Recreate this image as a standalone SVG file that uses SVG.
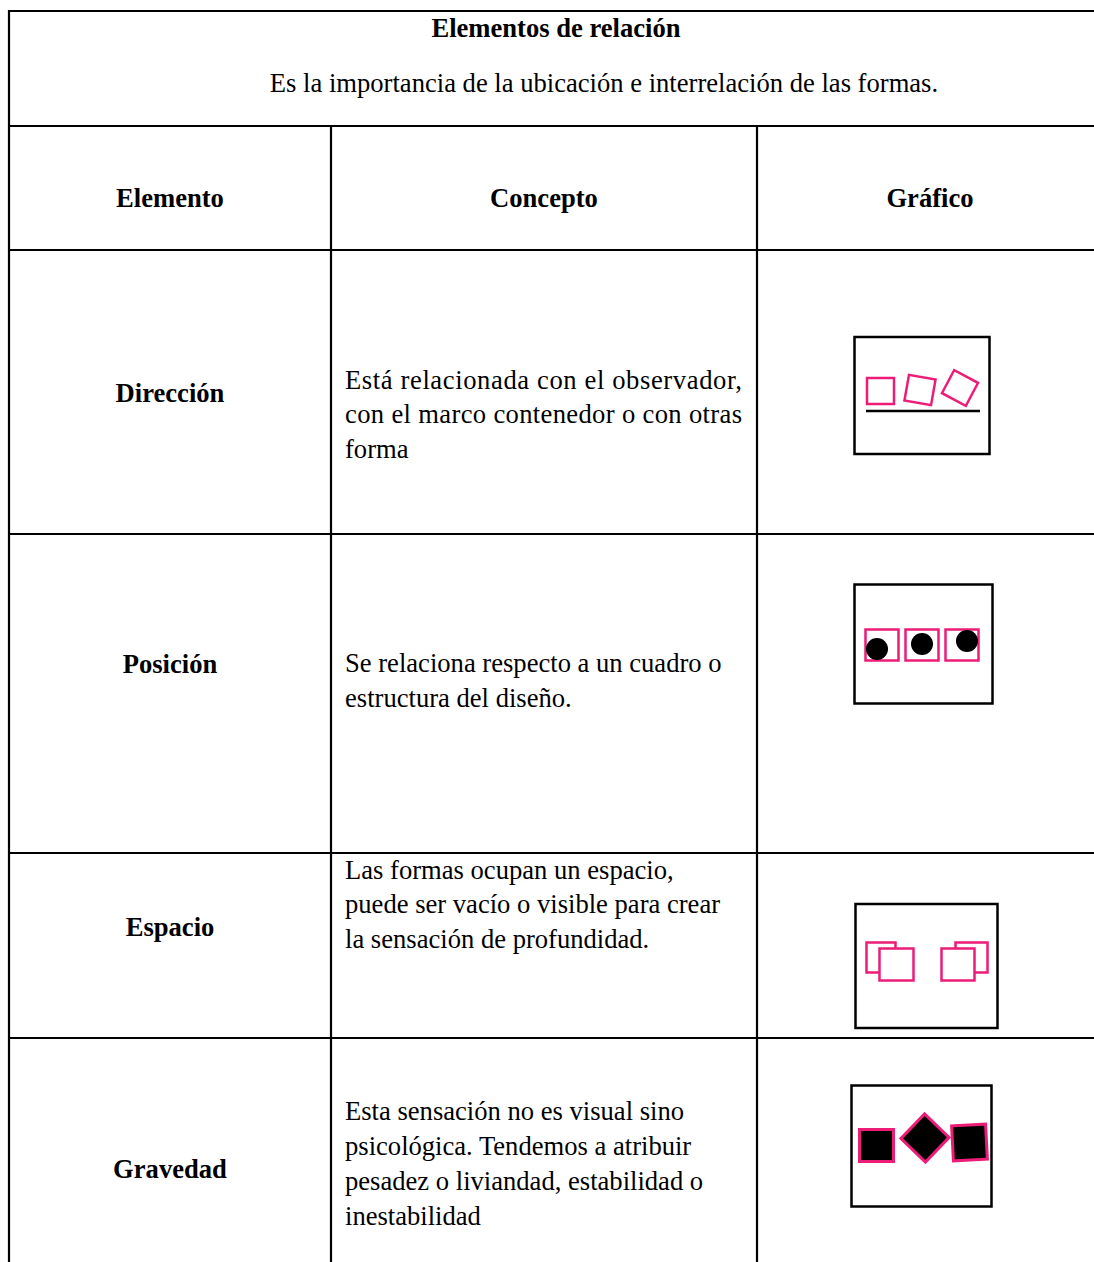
<svg xmlns="http://www.w3.org/2000/svg" width="1094" height="1262" viewBox="0 0 1094 1262">
<style>
.t{font-family:"Liberation Serif","Times New Roman",serif;font-size:26.6px;fill:#000}
.b{font-weight:bold}
.c{text-anchor:middle}
.g{fill:none;stroke:#000;stroke-width:2.5}
.p{fill:none;stroke:#EC1C77;stroke-width:2.5}
.pw{fill:#fff;stroke:#EC1C77;stroke-width:2.5}
.pb{fill:#000;stroke:#EC1C77;stroke-width:3}
</style>
<rect width="1094" height="1262" fill="#fff"/>
<g id="grid" stroke="#000" stroke-width="2.2">
<line x1="9" y1="11" x2="1094" y2="11"/>
<line x1="9" y1="10" x2="9" y2="1262"/>
<line x1="9" y1="126" x2="1094" y2="126"/>
<line x1="9" y1="250" x2="1094" y2="250"/>
<line x1="9" y1="534" x2="1094" y2="534"/>
<line x1="9" y1="853" x2="1094" y2="853"/>
<line x1="9" y1="1038" x2="1094" y2="1038"/>
<line x1="331" y1="126" x2="331" y2="1262"/>
<line x1="757" y1="126" x2="757" y2="1262"/>
</g>
<g id="title">
<text class="t b c" x="556" y="37">Elementos de relación</text>
<text class="t c" x="604" y="92">Es la importancia de la ubicación e interrelación de las formas.</text>
</g>
<g id="header">
<text class="t b c" x="170" y="207">Elemento</text>
<text class="t b c" x="544" y="207">Concepto</text>
<text class="t b c" x="930" y="207">Gráfico</text>
</g>
<g id="direccion">
<text class="t b c" x="170" y="402">Dirección</text>
<text class="t" x="345" y="389" textLength="397" lengthAdjust="spacing">Está relacionada con el observador,</text>
<text class="t" x="345" y="423" textLength="397" lengthAdjust="spacing">con el marco contenedor o con otras</text>
<text class="t" x="345" y="458">forma</text>
<rect class="g" x="854.5" y="337" width="135" height="117"/>
<rect class="p" x="867" y="378" width="27" height="26"/>
<rect class="p" x="-13.5" y="-13" width="27" height="26" transform="translate(920 390) rotate(10)"/>
<rect class="p" x="-13.5" y="-13" width="27" height="26" transform="translate(960 388) rotate(28)"/>
<line x1="866" y1="411" x2="980" y2="411" stroke="#000" stroke-width="2.5"/>
</g>
<g id="posicion">
<text class="t b c" x="170" y="673">Posición</text>
<text class="t" x="345" y="672">Se relaciona respecto a un cuadro o</text>
<text class="t" x="345" y="707">estructura del diseño.</text>
<rect class="g" x="854.5" y="584.5" width="138" height="119"/>
<rect class="p" x="865.5" y="629.5" width="33" height="31"/>
<rect class="p" x="905.5" y="629.5" width="33" height="31"/>
<rect class="p" x="945.5" y="629.5" width="33" height="31"/>
<circle cx="877" cy="649" r="11"/>
<circle cx="922" cy="644" r="11"/>
<circle cx="967" cy="641" r="11"/>
</g>
<g id="espacio">
<text class="t b c" x="170" y="936">Espacio</text>
<text class="t" x="345" y="879">Las formas ocupan un espacio,</text>
<text class="t" x="345" y="913">puede ser vacío o visible para crear</text>
<text class="t" x="345" y="948">la sensación de profundidad.</text>
<rect class="g" x="855.5" y="904" width="142" height="124"/>
<rect class="pw" x="866.5" y="942.5" width="29" height="30"/>
<rect class="pw" x="879.5" y="948.5" width="34" height="32"/>
<rect class="pw" x="955.5" y="942.5" width="32" height="30"/>
<rect class="pw" x="941.5" y="948.5" width="33" height="32"/>
</g>
<g id="gravedad">
<text class="t b c" x="170" y="1178">Gravedad</text>
<text class="t" x="345" y="1120">Esta sensación no es visual sino</text>
<text class="t" x="345" y="1155">psicológica. Tendemos a atribuir</text>
<text class="t" x="345" y="1190">pesadez o liviandad, estabilidad o</text>
<text class="t" x="345" y="1225">inestabilidad</text>
<rect class="g" x="851.5" y="1085.5" width="140" height="121"/>
<rect class="pb" x="859.5" y="1129.5" width="34" height="32"/>
<rect class="pb" x="-17" y="-17" width="34" height="34" transform="translate(925 1138) rotate(44)"/>
<rect class="pb" x="-17" y="-17.5" width="34" height="35" transform="translate(969.5 1142.5) rotate(-3)"/>
</g>
</svg>
